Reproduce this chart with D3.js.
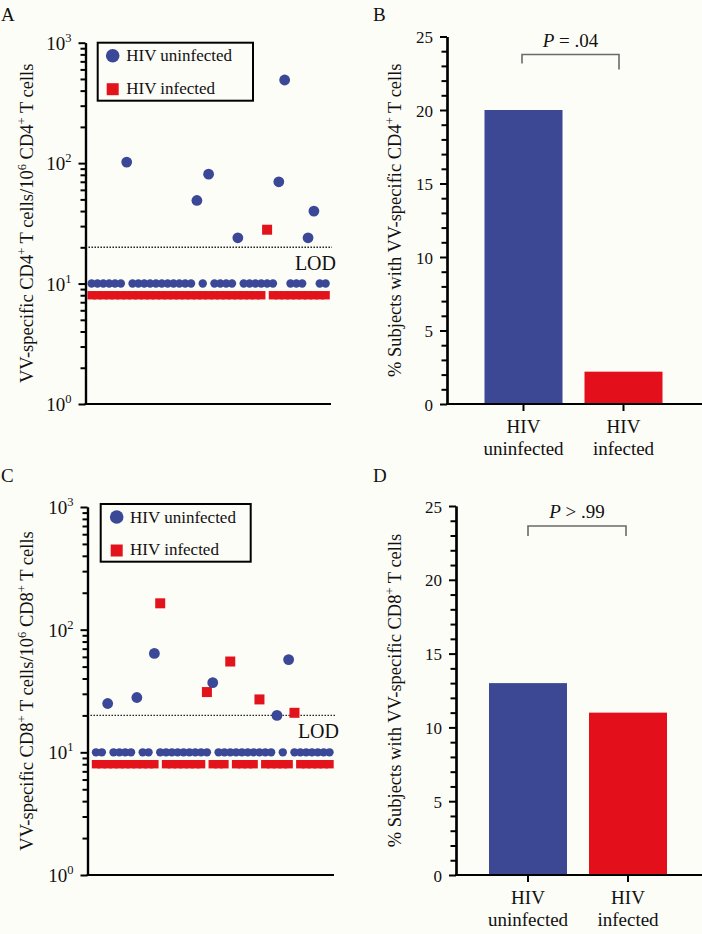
<!DOCTYPE html>
<html><head><meta charset="utf-8">
<script src="https://cdn.jsdelivr.net/npm/d3@7"></script>
<style>
body{margin:0;background:#fdfdf8;}
svg{display:block;}
svg text{font-family:"Liberation Serif","DejaVu Serif","Times New Roman",serif;fill:#111;}
</style>
</head><body>
<svg id="chart" width="702" height="934" font-family="Liberation Serif, DejaVu Serif, serif"></svg>
<script>
// ---------- DATA ----------
// Per-subject values; undetectable uninfected plotted at 10, undetectable infected at 8
const cd4Uninfected = [10,10,10,10,10,10,102,10,10,10,10,10,10,10,10,10,10,10,49,10,81,10,10,10,10,24,10,10,10,10,10,10,70,490,10,10,10,24,40,10,10];
const cd4Infected   = [8,8,8,8,8,8,8,8,8,8,8,8,8,8,8,8,8,8,8,8,8,8,8,8,8,8,8,8,8,8,28,8,8,8,8,8,8,8,8,8,8];
const cd8Uninfected = [10,10,25,10,10,10,10,28,10,10,64,10,10,10,10,10,10,10,10,10,37,10,10,10,10,10,10,10,10,10,10,20,10,57,10,10,10,10,10,10,10];
const cd8Infected   = [8,8,8,8,8,8,8,8,8,8,8,164,8,8,8,8,8,8,8,31,8,8,8,55,8,8,8,8,27,8,8,8,8,8,21,8,8,8,8,8,8];
const barCategories = ["HIV uninfected", "HIV infected"];
const cd4Percent = [20, 2.2];
const cd8Percent = [13, 11];
const logTickValues = [1, 10, 100, 1000];
const barTickValues = [0, 5, 10, 15, 20, 25];
const lodValue = 20;
const legendLabels = ["HIV uninfected", "HIV infected"];
const pTexts = ["= .04", "> .99"];
const panelLetters = ["A", "B", "C", "D"];

// ---------- STYLE ----------
const FONT = "Liberation Serif, DejaVu Serif, serif";
const BLUE = "#3a4897", RED = "#e3131b";
const BAR_BLUE = "#3c4893", BAR_RED = "#e30f1b";
const svg = d3.select("#chart");

function styleAxis(g, w) {
  g.attr("font-family", FONT);
  g.select(".domain").attr("stroke", "#000").attr("stroke-width", w || 2.2);
  g.selectAll(".tick line").attr("stroke", "#000").attr("stroke-width", 2);
}
function txt(g) { return g.append("text").attr("font-family", FONT).attr("fill", "#111"); }

// ---------- SCATTER PANEL ----------
function scatterPanel(o) {
  const y = d3.scaleLog().domain([1, 1000]).range([o.yBottom, o.yTop]);
  const x = d3.scaleLinear().domain([0, o.uninf.length - 1]).range([o.x0, o.x1]);
  const g = svg.append("g");

  const minors = [];
  [1, 10, 100].forEach(d => { for (let k = 2; k <= 9; k++) minors.push(d * k); });
  const gm = g.append("g").attr("transform", `translate(${o.axisX},0)`)
    .call(d3.axisLeft(y).tickValues(minors).tickSize(5).tickSizeOuter(0).tickFormat(""));
  styleAxis(gm);
  const gM = g.append("g").attr("transform", `translate(${o.axisX},0)`)
    .call(d3.axisLeft(y).tickValues(logTickValues).tickSize(7).tickSizeOuter(0).tickFormat(""));
  styleAxis(gM);
  g.append("line").attr("x1", o.axisX - 1).attr("x2", o.lineEnd)
    .attr("y1", y(1)).attr("y2", y(1)).attr("stroke", "#000").attr("stroke-width", 2.2);

  logTickValues.forEach(d => {
    const t = txt(g).attr("x", o.axisX - 14).attr("y", y(d) + 7)
      .attr("text-anchor", "end").attr("font-size", "19px").text("10");
    t.append("tspan").attr("dy", -8).attr("font-size", "12.5px").text(Math.round(Math.log10(d)));
  });

  const tt = txt(g).attr("transform", `translate(${o.titleX},${(o.yTop + o.yBottom) / 2}) rotate(-90)`)
    .attr("text-anchor", "middle").attr("font-size", "18.5px");
  tt.append("tspan").text(`VV-specific ${o.cd}`);
  tt.append("tspan").attr("dy", -7).attr("font-size", "12.5px").text("+");
  tt.append("tspan").attr("dy", 7).text(" T cells/10");
  tt.append("tspan").attr("dy", -7).attr("font-size", "12.5px").text("6");
  tt.append("tspan").attr("dy", 7).text(` ${o.cd}`);
  tt.append("tspan").attr("dy", -7).attr("font-size", "12.5px").text("+");
  tt.append("tspan").attr("dy", 7).text(" T cells");

  g.append("line").attr("x1", o.axisX).attr("x2", o.lodEnd)
    .attr("y1", y(lodValue)).attr("y2", y(lodValue))
    .attr("stroke", "#111").attr("stroke-width", 1.4).attr("stroke-dasharray", "1.4,1.6");
  txt(g).attr("x", o.lodEnd + 4).attr("y", y(lodValue) + 23)
    .attr("text-anchor", "end").attr("font-size", "20px").text("LOD");

  o.inf.forEach((v, i) => {
    const s = v >= lodValue ? 10 : 8.4;
    g.append("rect").attr("x", x(i) - s / 2).attr("y", y(v) - s / 2)
      .attr("width", s).attr("height", s).attr("fill", RED);
  });
  o.uninf.forEach((v, i) => {
    g.append("circle").attr("cx", x(i)).attr("cy", y(v))
      .attr("r", v >= lodValue ? 5.4 : 4.2).attr("fill", BLUE);
  });

  const L = o.legend;
  g.append("rect").attr("x", L.x).attr("y", L.y).attr("width", L.w).attr("height", L.h)
    .attr("fill", "#fdfdf8").attr("stroke", "#000").attr("stroke-width", 2);
  g.append("circle").attr("cx", L.x + L.mx).attr("cy", L.y + 13).attr("r", 6.8).attr("fill", BLUE);
  g.append("rect").attr("x", L.x + L.mx - 6).attr("y", L.y + 40.5).attr("width", 12).attr("height", 12).attr("fill", RED);
  txt(g).attr("x", L.x + L.tx).attr("y", L.y + 18.5).attr("font-size", "17px").text(legendLabels[0]);
  txt(g).attr("x", L.x + L.tx).attr("y", L.y + 51).attr("font-size", "17px").text(legendLabels[1]);

  txt(g).attr("x", 1).attr("y", o.letterY).attr("font-size", "19px").text(o.letter);
}

// ---------- BAR PANEL ----------
function barPanel(o) {
  const y = d3.scaleLinear().domain([0, 25]).range([o.yBottom, o.yTop]);
  const x = d3.scaleBand().domain(barCategories).range(o.xRange).paddingInner(0.22).paddingOuter(0.385);
  const g = svg.append("g");

  g.selectAll("rect.bar").data(o.values).join("rect").attr("class", "bar")
    .attr("x", (d, i) => x(barCategories[i])).attr("width", x.bandwidth())
    .attr("y", d => y(d)).attr("height", d => y(0) - y(d))
    .attr("fill", (d, i) => i === 0 ? BAR_BLUE : BAR_RED);

  const minors = d3.range(0, 26).filter(v => v % 5 !== 0);
  const gm = g.append("g").attr("transform", `translate(${o.axisX},0)`)
    .call(d3.axisLeft(y).tickValues(minors).tickSize(5.5).tickSizeOuter(0).tickFormat(""));
  styleAxis(gm);
  const gM = g.append("g").attr("transform", `translate(${o.axisX},0)`)
    .call(d3.axisLeft(y).tickValues(barTickValues).tickSize(7).tickSizeOuter(0).tickPadding(7).tickFormat(d3.format("d")));
  styleAxis(gM);
  gM.selectAll(".tick text").attr("font-size", "17px").attr("font-family", FONT).attr("fill", "#111").attr("dy", "0.36em");

  const gx = g.append("g").attr("transform", `translate(0,${y(0)})`)
    .call(d3.axisBottom(x).tickSize(7).tickSizeOuter(0).tickFormat(""));
  gx.select(".domain").attr("d", `M${o.axisX - 1},0H702`);
  styleAxis(gx);
  barCategories.forEach(c => {
    const parts = c.split(" ");
    const cx = x(c) + x.bandwidth() / 2;
    txt(g).attr("x", cx).attr("y", y(0) + 29).attr("text-anchor", "middle").attr("font-size", "19px").text(parts[0]);
    txt(g).attr("x", cx).attr("y", y(0) + 51).attr("text-anchor", "middle").attr("font-size", "19px").text(parts[1]);
  });

  const tt = txt(g).attr("transform", `translate(${o.titleX},${(o.yTop + o.yBottom) / 2}) rotate(-90)`)
    .attr("text-anchor", "middle").attr("font-size", "18.5px");
  tt.append("tspan").text(`% Subjects with VV-specific ${o.cd}`);
  tt.append("tspan").attr("dy", -7).attr("font-size", "12.5px").text("+");
  tt.append("tspan").attr("dy", 7).text(" T cells");

  const c0 = x(barCategories[0]) + x.bandwidth() / 2 + o.br.dx0;
  const c1 = x(barCategories[1]) + x.bandwidth() / 2 + o.br.dx1;
  const top = y(25) + o.br.top;
  g.append("path").attr("d", `M${c0},${top + o.br.leg0}V${top}H${c1}V${top + o.br.leg1}`)
    .attr("fill", "none").attr("stroke", "#6a6a6a").attr("stroke-width", 1.6);
  const pt = txt(g).attr("x", (c0 + c1) / 2).attr("y", top - 8).attr("text-anchor", "middle").attr("font-size", "19px");
  pt.append("tspan").attr("font-style", "italic").text("P");
  pt.append("tspan").text(" " + o.p);

  txt(g).attr("x", 373).attr("y", o.letterY).attr("font-size", "19px").text(o.letter);
}

scatterPanel({uninf: cd4Uninfected, inf: cd4Infected, cd: "CD4", yTop: 42.7, yBottom: 404,
  x0: 91.6, x1: 325.6, axisX: 85.5, lineEnd: 331, lodEnd: 332, titleX: 33,
  legend: {x: 97.7, y: 42.7, w: 155.3, h: 58, mx: 15, tx: 28.5}, letter: panelLetters[0], letterY: 20.5});
barPanel({values: cd4Percent, cd: "CD4", yTop: 36.5, yBottom: 404, xRange: [446, 701], axisX: 447,
  titleX: 401, p: pTexts[0], br: {dx0: -1.5, dx1: -4.5, top: 18, leg0: 9, leg1: 15}, letter: panelLetters[1], letterY: 20.5});
scatterPanel({uninf: cd8Uninfected, inf: cd8Infected, cd: "CD8", yTop: 507, yBottom: 875,
  x0: 96, x1: 329.5, axisX: 87.5, lineEnd: 334, lodEnd: 335, titleX: 33,
  legend: {x: 100.7, y: 504, w: 150, h: 57.7, mx: 16, tx: 29.3}, letter: panelLetters[2], letterY: 482});
barPanel({values: cd8Percent, cd: "CD8", yTop: 506, yBottom: 875, xRange: [450.5, 705.5], axisX: 456,
  titleX: 401, p: pTexts[1], br: {dx0: 0, dx1: -2, top: 20, leg0: 10, leg1: 10}, letter: panelLetters[3], letterY: 482});
</script>
</body></html>
